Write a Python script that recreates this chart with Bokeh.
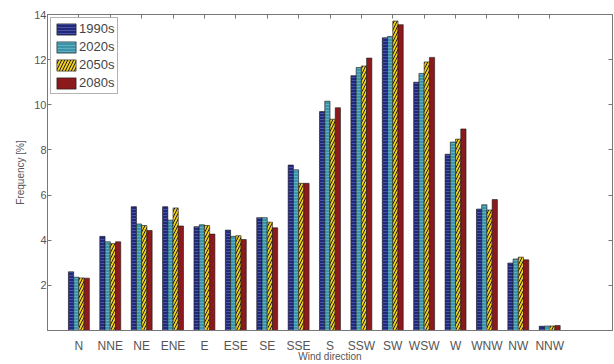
from bokeh.plotting import figure
from bokeh.models import (ColumnDataSource, Range1d, FixedTicker, LinearAxis, Legend, LegendItem,
                          CustomJSTickFormatter)
from bokeh.transform import dodge
from bokeh.embed import file_html
from bokeh.resources import INLINE

directions = ["N", "NNE", "NE", "ENE", "E", "ESE", "SE", "SSE", "S", "SSW", "SW", "WSW", "W", "WNW", "NW", "NNW"]
periods = ["1990s", "2020s", "2050s", "2080s"]
f1990 = [2.6, 4.17, 5.48, 5.48, 4.6, 4.45, 5.0, 7.33, 9.7, 11.29, 12.97, 11.0, 7.81, 5.38, 2.99, 0.19]
f2020 = [2.36, 3.93, 4.72, 4.89, 4.68, 4.17, 5.0, 7.12, 10.16, 11.65, 13.03, 11.39, 8.35, 5.57, 3.17, 0.2]
f2050 = [2.33, 3.85, 4.65, 5.43, 4.65, 4.2, 4.8, 6.52, 9.36, 11.72, 13.71, 11.9, 8.48, 5.34, 3.25, 0.2]
f2080 = [2.32, 3.93, 4.43, 4.63, 4.27, 4.03, 4.55, 6.52, 9.87, 12.07, 13.55, 12.1, 8.93, 5.8, 3.13, 0.22]
y_ticks = [2, 4, 6, 8, 10, 12, 14]

xpos = list(range(1, len(directions) + 1))
src = ColumnDataSource(dict(x=xpos, a=f1990, b=f2020, c=f2050, d=f2080))

p = figure(width=614, height=364, output_backend="svg", toolbar_location=None,
           x_range=Range1d(0, 18), y_range=Range1d(0, 14),
           min_border_left=47, min_border_right=2, min_border_top=14, min_border_bottom=28)
p.xgrid.visible = False
p.ygrid.visible = False
p.outline_line_color = "#777777"
p.outline_line_width = 1

w = 0.167
styles = [
    ("a", -0.25, "#22297a", "horizontal_line", "#4a55a8", 3),
    ("b", -0.083, "#3d93a8", "horizontal_line", "#5fb0c2", 3),
    ("c", 0.083, "#f0cc1e", "right_diagonal_line", "#222222", 6),
    ("d", 0.25, "#8c1a1c", None, None, 0),
]
items = []
for (col, off, fc, hp, hc, hs), lab in zip(styles, periods):
    kw = dict(x=dodge("x", off, range=p.x_range), top=col, width=w, source=src,
              fill_color=fc, line_color="#1a1a1a", line_width=0.6)
    if hp:
        kw.update(hatch_pattern=hp, hatch_color=hc, hatch_scale=hs, hatch_weight=1.0)
    r = p.vbar(**kw)
    items.append(LegendItem(label=lab, renderers=[r]))

legend = Legend(items=items, location="top_left", border_line_color="#666666",
                label_text_font="Liberation Sans", label_text_font_size="13px",
                label_text_color="#444444", glyph_width=24, glyph_height=14,
                label_height=14, spacing=3, padding=3, margin=3, label_standoff=1)
p.add_layout(legend)

def style_axis(ax):
    ax.axis_line_color = "#777777"
    ax.major_tick_line_color = "#777777"
    ax.minor_tick_line_color = None
    ax.major_tick_in = 4
    ax.major_tick_out = 0
    ax.major_label_text_font = "Liberation Sans"
    ax.major_label_text_color = "#555555"
    ax.axis_label_text_font = "Liberation Sans"
    ax.axis_label_text_font_style = "normal"
    ax.axis_label_text_color = "#555555"

xa = p.xaxis[0]
style_axis(xa)
xa.ticker = FixedTicker(ticks=xpos)
xa.major_label_overrides = {i: d for i, d in zip(xpos, directions)}
xa.major_label_standoff = 8
xa.major_label_text_font_size = "12px"
xa.axis_label = "Wind direction"
xa.axis_label_text_font_size = "10px"
xa.axis_label_standoff = -5

ya = p.yaxis[0]
style_axis(ya)
ya.ticker = FixedTicker(ticks=y_ticks)
ya.axis_label = "Frequency [%]"
ya.major_label_standoff = 1
ya.axis_label_standoff = 5
ya.major_label_text_font_size = "11px"
ya.axis_label_text_font_size = "10px"

blank = CustomJSTickFormatter(code="return '';")
top = LinearAxis(ticker=FixedTicker(ticks=xpos), formatter=blank)
style_axis(top)
top.major_label_standoff = 0
p.add_layout(top, "above")
right = LinearAxis(ticker=FixedTicker(ticks=y_ticks), formatter=blank)
style_axis(right)
right.major_label_standoff = 0
p.add_layout(right, "right")

open("out.html", "w").write(file_html(p, INLINE))
